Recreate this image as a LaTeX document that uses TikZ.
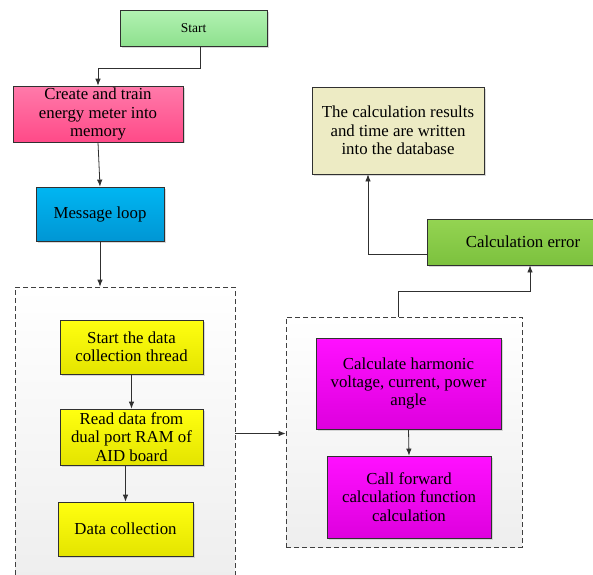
\documentclass[tikz,border=0pt]{standalone}
\usepackage{fontspec}
\setmainfont{Liberation Serif}
\usetikzlibrary{arrows.meta,shadows}
\definecolor{startT}{HTML}{B2F2B2}
\definecolor{startB}{HTML}{8EE08E}
\definecolor{pinkT}{HTML}{FF7AAA}
\definecolor{pinkB}{HTML}{FF4A88}
\definecolor{blueT}{HTML}{00B6F2}
\definecolor{blueB}{HTML}{0096D4}
\definecolor{yelT}{HTML}{FFFF10}
\definecolor{yelB}{HTML}{E4E400}
\definecolor{magT}{HTML}{FF10FF}
\definecolor{magB}{HTML}{DE00DE}
\definecolor{dbC}{HTML}{EDEBC4}
\definecolor{errT}{HTML}{94D452}
\definecolor{errB}{HTML}{7CC13E}
\definecolor{contB}{HTML}{EEEEEE}
\definecolor{lineC}{HTML}{303030}
\tikzset{
  box/.style={draw=lineC, line width=0.8pt, align=center, inner sep=2pt,
    font=\fontsize{16.8}{18.3}\selectfont,
    drop shadow={shadow xshift=1.5pt, shadow yshift=-1.5pt, fill=black!25, opacity=0.6}},
  container/.style={draw=black!75, dashed, dash pattern=on 5pt off 3pt, line width=0.8pt,
    top color=white, bottom color=contB, inner sep=0pt},
  arr/.style={-{Latex[length=7pt,width=5.5pt]}, draw=lineC, line width=0.8pt},
}
\begin{document}
\begin{tikzpicture}[x=1pt,y=1pt]
\useasboundingbox (0,0) rectangle (593,-574);
% containers
\node[container, minimum width=220pt, minimum height=293pt] (leftc) at (125,-433.5) {};
\node[container, minimum width=236pt, minimum height=230pt] (rightc) at (404,-432) {};
% nodes
\node[box, top color=startT, bottom color=startB, minimum width=147pt, minimum height=36pt,
  font=\fontsize{13.5}{15}\selectfont] (start) at (193.5,-28) {Start};
\node[box, top color=pinkT, bottom color=pinkB, minimum width=170pt, minimum height=54pt] (create) at (98,-114)
  {Create and train\\energy meter into\\memory};
\node[box, top color=blueT, bottom color=blueB, minimum width=128pt, minimum height=54pt] (msg) at (100,-214)
  {Message loop};
\node[box, top color=yelT, bottom color=yelB, minimum width=143pt, minimum height=54pt] (startdata) at (131.5,-347)
  {Start the data\\collection thread};
\node[box, top color=yelT, bottom color=yelB, minimum width=143pt, minimum height=56pt] (read) at (131.5,-437)
  {Read data from\\dual port RAM of\\AID board};
\node[box, top color=yelT, bottom color=yelB, minimum width=135pt, minimum height=54pt] (datacoll) at (125.5,-529)
  {Data collection};
\node[box, top color=magT, bottom color=magB, minimum width=185pt, minimum height=91pt] (harm) at (408.5,-383.5)
  {Calculate harmonic\\voltage, current, power\\angle};
\node[box, top color=magT, bottom color=magB, minimum width=164pt, minimum height=82pt] (callfwd) at (409,-497)
  {Call forward\\calculation function\\calculation};
\node[box, fill=dbC, minimum width=172pt, minimum height=87pt] (db) at (398,-130.5)
  {The calculation results\\and time are written\\into the database};
\node[box, top color=errT, bottom color=errB, minimum width=192pt, minimum height=46pt] (err) at (523,-242)
  {Calculation error};
% connectors
\draw[arr] ([xshift=6.5pt]start.south) -- ++(0,-22) -| (create.north);
\draw[arr] (create.south) -- (msg.north);
\draw[arr] (msg.south) -- (msg.south |- leftc.north);
\draw[arr] (startdata.south) -- (read.north);
\draw[arr] (read.south -| datacoll.north) -- (datacoll.north);
\draw[arr] (leftc.east) -- (leftc.east -| rightc.west);
\draw[arr] (harm.south) -- (callfwd.north);
\draw[arr] ([xshift=-6pt]rightc.north) -- ++(0,25) -| ([xshift=7pt]err.south);
\draw[arr] ([yshift=-12pt]err.west) -| ([xshift=-30pt]db.south);
\end{tikzpicture}
\end{document}
